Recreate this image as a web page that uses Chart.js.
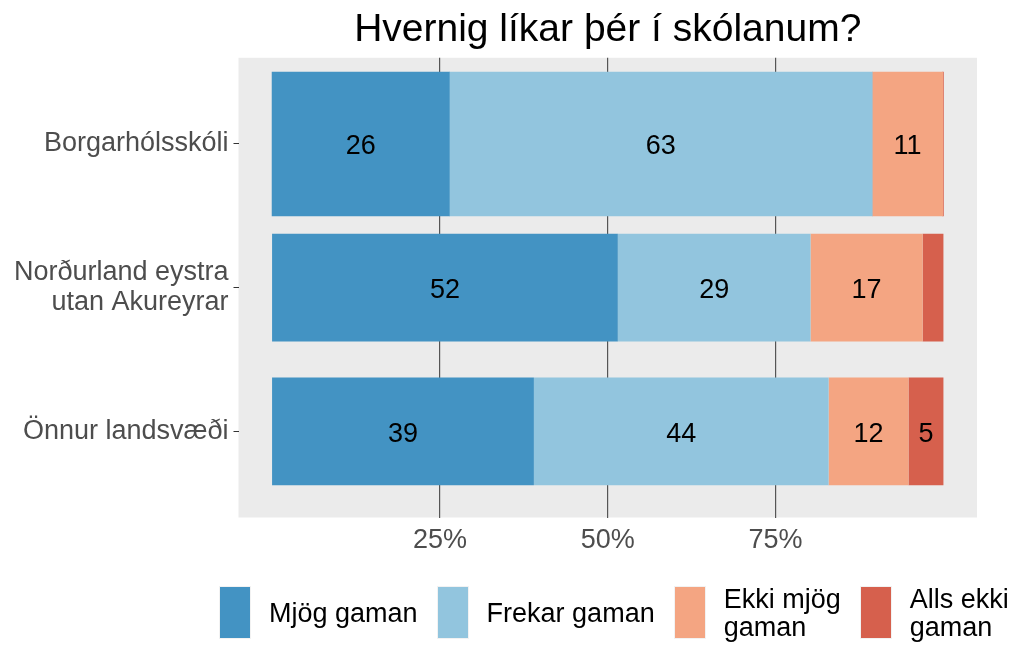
<!DOCTYPE html>
<html>
<head>
<meta charset="utf-8">
<script src="https://cdn.jsdelivr.net/npm/chart.js@4/dist/chart.umd.min.js"></script>
<style>
  body { margin: 0; background: #fff; }
  #wrap { position: relative; width: 1021px; height: 648px; }
  #legend {
    position: absolute; left: 219px; top: 586px; height: 53px; width: max-content;
    display: flex; align-items: center;
    font-family: "Liberation Sans", Arial, sans-serif; font-size: 27px; line-height: 28px; color: #000;
  }
  #legend .sw { flex: none; width: 32px; height: 53px; box-sizing: border-box; border: 1px solid #f2f2f2; margin-right: 18px; }
  #legend .lb { flex: none; white-space: pre; margin-right: 19px; }
</style>
</head>
<body>
<div id="wrap">
  <canvas id="chart" width="1021" height="648"></canvas>
  <div id="legend"></div>
</div>
<script>
// data (percent of answers)
const categories = ['Borgarhólsskóli', ['Norðurland eystra', 'utan Akureyrar'], 'Önnur landsvæði'];
const responses = ['Mjög gaman', 'Frekar gaman', 'Ekki mjög gaman', 'Alls ekki gaman'];
const legendLabels = ['Mjög gaman', 'Frekar gaman', 'Ekki mjög\ngaman', 'Alls ekki\ngaman'];
const mjogGaman = [26.4, 51.5, 39.0];
const frekarGaman = [63.0, 28.7, 43.9];
const ekkiMjogGaman = [10.5, 16.7, 11.9];
const allsEkkiGaman = [0.1, 3.1, 5.2];
const xTicks = [25, 50, 75];

const series = [mjogGaman, frekarGaman, ekkiMjogGaman, allsEkkiGaman];
const colors = ['#4393C3', '#92C5DE', '#F4A582', '#D6604D'];
// first bar is drawn wider than the other two
const groups = [{ idx: [0], width: 1 }, { idx: [1, 2], width: 0.75 }];

const datasets = [];
series.forEach((vals, r) => {
  groups.forEach(g => {
    datasets.push({
      label: responses[r],
      data: g.idx.map(i => ({ x: vals[i], y: i + 1 })),
      backgroundColor: colors[r],
      barPercentage: g.width,
      categoryPercentage: 1,
      stack: 's'
    });
  });
});

Chart.defaults.font.family = '"Liberation Sans", Arial, sans-serif';

const panelBg = {
  id: 'panelBg',
  beforeDraw(chart) {
    const a = chart.chartArea, ctx = chart.ctx;
    ctx.save();
    ctx.fillStyle = '#EBEBEB';
    ctx.fillRect(a.left, a.top, a.right - a.left, a.bottom - a.top);
    ctx.restore();
  }
};

const barLabels = {
  id: 'barLabels',
  afterDatasetsDraw(chart) {
    const ctx = chart.ctx;
    ctx.save();
    ctx.fillStyle = '#000';
    ctx.font = '27px "Liberation Sans", Arial, sans-serif';
    ctx.textAlign = 'center';
    ctx.textBaseline = 'middle';
    chart.data.datasets.forEach((ds, i) => {
      chart.getDatasetMeta(i).data.forEach((el, j) => {
        const v = ds.data[j].x;
        if (v < 4) return;
        ctx.fillText(Math.round(v), (el.x + el.base) / 2, el.y + 3);
      });
    });
    ctx.restore();
  }
};

new Chart(document.getElementById('chart'), {
  type: 'bar',
  data: { datasets },
  options: {
    indexAxis: 'y',
    responsive: false,
    animation: false,
    layout: { padding: { left: 0, right: 44, top: 0, bottom: 0 } },
    scales: {
      x: {
        type: 'linear',
        stacked: true,
        offset: false,
        min: -5,
        max: 105,
        afterBuildTicks: s => { s.ticks = xTicks.map(v => ({ value: v })); },
        afterFit: s => { s.height = 130.5; },
        ticks: { color: '#4D4D4D', font: { size: 27 }, padding: 7, callback: v => v + '%' },
        grid: { offset: false, color: '#555', lineWidth: 1.2, drawTicks: false },
        border: { display: false }
      },
      y: {
        type: 'linear',
        stacked: true,
        reverse: true,
        offset: false,
        min: 0.4,
        max: 3.6,
        afterBuildTicks: s => { s.ticks = categories.map((c, i) => ({ value: i + 1 })); },
        afterFit: s => { s.width = 238.5; },
        ticks: { color: '#4D4D4D', font: { size: 27, lineHeight: 1.11 }, padding: 5, callback: v => categories[v - 1] },
        grid: { offset: false, drawOnChartArea: false, drawTicks: true, tickLength: 5, tickColor: '#333', tickWidth: 1 },
        border: { display: false }
      }
    },
    plugins: {
      legend: { display: false },
      tooltip: { enabled: false },
      title: {
        display: true,
        fullSize: false,
        text: 'Hvernig líkar þér í skólanum?',
        color: '#000',
        font: { size: 39, weight: 'normal' },
        padding: { top: 6.5, bottom: 4.5 }
      }
    }
  },
  plugins: [panelBg, barLabels]
});

// legend below the panel
const leg = document.getElementById('legend');
legendLabels.forEach((t, r) => {
  const sw = document.createElement('div');
  sw.className = 'sw';
  sw.style.background = colors[r];
  const lb = document.createElement('div');
  lb.className = 'lb';
  lb.textContent = t;
  leg.appendChild(sw);
  leg.appendChild(lb);
});
</script>
</body>
</html>
